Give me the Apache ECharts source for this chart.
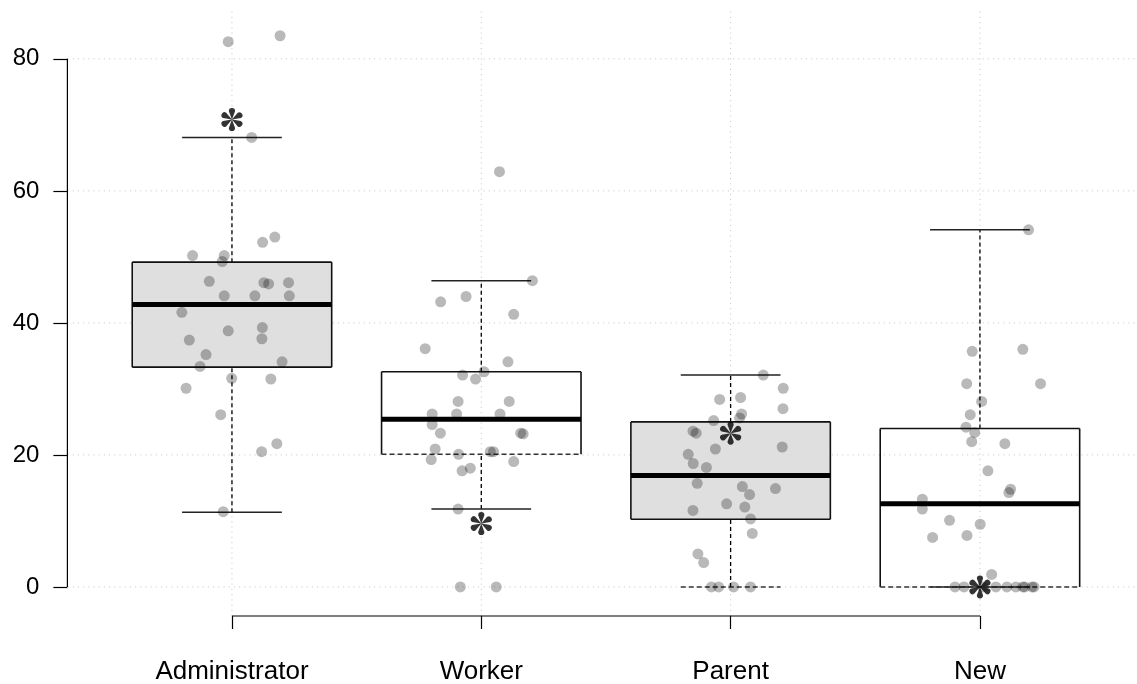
<!DOCTYPE html>
<html>
<head>
<meta charset="utf-8">
<script src="https://cdn.jsdelivr.net/npm/echarts@6/dist/echarts.min.js"></script>
<style>
html,body{margin:0;padding:0;background:#fff;}
#chart{width:1137px;height:684px;}
</style>
</head>
<body>
<div id="chart"></div>
<script>
// ---------- data ----------
const categories = ['Administrator', 'Worker', 'Parent', 'New'];
const yTicks = [0, 20, 40, 60, 80];

const boxLow    = [11.3, 11.8, 0,     0];
const boxQ1     = [33.3, 20.1, 10.25, 0];
const boxMedian = [42.8, 25.4, 16.9,  12.6];
const boxQ3     = [49.2, 32.6, 25.0,  24.0];
const boxHigh   = [68.1, 46.4, 32.1,  54.1];
const starValues = [70.8, 9.6, 23.3, 0];

const adminValues = [82.6, 83.5, 68.1, 52.2, 53.0, 50.2, 50.2, 49.3, 46.3, 46.1, 45.9, 46.1, 44.1, 44.1, 44.1,
  41.6, 38.8, 39.3, 37.4, 37.6, 35.2, 33.4, 34.1, 31.6, 31.5, 30.1, 26.1, 21.7, 20.5, 11.4];
const adminJitter = [-0.015, 0.193, 0.079, 0.123, 0.172, -0.158, -0.031, -0.039, -0.091, 0.128, 0.147, 0.227, -0.031, 0.092, 0.230,
  -0.201, -0.015, 0.122, -0.171, 0.120, -0.104, -0.128, 0.201, -0.001, 0.156, -0.184, -0.045, 0.180, 0.119, -0.035];

const workerValues = [62.9, 46.4, 43.2, 44.0, 41.3, 36.1, 34.1, 32.6, 32.1, 31.5, 28.1, 28.1, 26.2, 26.2, 26.2,
  24.6, 23.3, 23.3, 23.2, 20.9, 20.1, 20.5, 20.5, 19.3, 19.0, 17.6, 18.0, 11.8, 0, 0];
const workerJitter = [0.073, 0.205, -0.163, -0.061, 0.130, -0.225, 0.107, 0.011, -0.075, -0.023, -0.093, 0.112, -0.197, -0.099, 0.075,
  -0.197, -0.164, 0.158, 0.168, -0.185, -0.091, 0.036, 0.049, -0.201, 0.130, -0.077, -0.044, -0.093, -0.084, 0.060];

const parentValues = [32.1, 30.1, 28.4, 28.7, 27.0, 26.2, 25.6, 25.2, 23.6, 23.3, 20.9, 21.2, 20.1, 18.7, 18.1,
  15.7, 15.2, 14.9, 14.0, 12.6, 12.1, 11.6, 10.3, 8.1, 5.0, 3.7, 0, 0, 0, 0];
const parentJitter = [0.131, 0.211, -0.044, 0.040, 0.210, 0.044, 0.036, -0.068, -0.151, -0.138, -0.061, 0.207, -0.170, -0.150, -0.097,
  -0.134, 0.047, 0.180, 0.076, -0.016, 0.057, -0.151, 0.080, 0.087, -0.131, -0.108, -0.077, -0.048, 0.012, 0.080];

const newValues = [54.1, 35.7, 36.0, 30.8, 30.8, 28.1, 26.1, 24.2, 23.4, 22.0, 21.7, 17.6, 14.8, 14.3, 13.3,
  11.8, 10.1, 9.5, 7.5, 7.8, 1.9, 0, 0, 0, 0, 0, 0, 0, 0, 0, 0];
const newJitter = [0.195, -0.031, 0.172, -0.053, 0.243, 0.007, -0.039, -0.056, -0.021, -0.033, 0.100, 0.032, 0.123, 0.116, -0.231,
  -0.231, -0.122, 0.001, -0.190, -0.052, 0.047, -0.100, -0.064, 0.012, 0.064, 0.108, 0.144, 0.172, 0.180, 0.209, 0.217];

// ---------- style config ----------
const X_MIN = 0.34, X_MAX = 4.66, Y_MIN = -4.4, Y_MAX = 87.4;
const boxFills = ['#dfdfdf', null, '#dfdfdf', null];
const dashedBottom = ['none', 'box', 'cap', 'box'];
const BOX_HALF = 0.4, CAP_HALF = 0.2;
const FONT = '"Liberation Sans", Arial, Helvetica, sans-serif';

const groups = [
  [adminValues, adminJitter],
  [workerValues, workerJitter],
  [parentValues, parentJitter],
  [newValues, newJitter]
];
const pointData = [];
groups.forEach((g, i) => {
  g[0].forEach((v, k) => pointData.push([i + 1 + g[1][k], v]));
});
const boxData = categories.map((c, i) => [i + 1, boxLow[i], boxQ1[i], boxMedian[i], boxQ3[i], boxHigh[i]]);
const starData = starValues.map((v, i) => [i + 1, v]);

// asterisk symbol (six teardrop arms)
function asteriskPath() {
  const L = 68, r = 25;
  let d = '';
  [-90, -30, 30, 90, 150, 210].forEach(deg => {
    const t = deg * Math.PI / 180;
    const dx = Math.cos(t), dy = Math.sin(t);
    const px = -dy, py = dx;
    const cx = dx * L, cy = dy * L;
    const ax = cx + px * r, ay = cy + py * r;
    const bx = cx - px * r, by = cy - py * r;
    d += 'M0 0L' + ax.toFixed(2) + ' ' + ay.toFixed(2) +
         'A' + r + ' ' + r + ' 0 1 0 ' + bx.toFixed(2) + ' ' + by.toFixed(2) + 'Z';
  });
  return 'path://' + d;
}

function seg(api, p1, p2, style) {
  const a = api.coord(p1), b = api.coord(p2);
  return { type: 'line', shape: { x1: a[0], y1: a[1], x2: b[0], y2: b[1] }, style: style };
}

const chart = echarts.init(document.getElementById('chart'), null, { renderer: 'canvas' });
const option = {
  backgroundColor: '#ffffff',
  animation: false,
  grid: { left: 67.4, top: 10, width: 1077.1, height: 606, outerBoundsMode: 'none', containLabel: false },
  xAxis: {
    type: 'value', min: X_MIN, max: X_MAX,
    axisLine: { show: false, onZero: false },
    splitLine: { show: false },
    axisTick: { show: true, customValues: [1, 2, 3, 4], length: 13, lineStyle: { color: '#000', width: 1.2 } },
    axisLabel: {
      customValues: [1, 2, 3, 4],
      formatter: v => categories[Math.round(v) - 1],
      fontSize: 26, color: '#000', margin: 43, fontFamily: FONT
    }
  },
  yAxis: {
    type: 'value', min: Y_MIN, max: Y_MAX,
    axisLine: { show: false, onZero: false },
    splitLine: { show: false },
    axisTick: { show: true, customValues: yTicks, length: 14, lineStyle: { color: '#000', width: 1.2 } },
    axisLabel: { customValues: yTicks, fontSize: 24, color: '#000', margin: 28, fontFamily: FONT }
  },
  series: [
    {
      type: 'custom', z: 1, silent: true,
      data: [[0]],
      renderItem: (params, api) => {
        const gridStyle = { stroke: '#cccccc', lineWidth: 1, lineDash: [1.2, 4] };
        const axisStyle = { stroke: '#000', lineWidth: 1.2 };
        const children = [];
        yTicks.forEach(v => children.push(seg(api, [X_MIN, v], [X_MAX, v], gridStyle)));
        categories.forEach((c, i) => children.push(seg(api, [i + 1, Y_MIN], [i + 1, Y_MAX], gridStyle)));
        children.push(seg(api, [X_MIN, yTicks[0]], [X_MIN, yTicks[yTicks.length - 1]], axisStyle));
        children.push(seg(api, [1, Y_MIN], [categories.length, Y_MIN], axisStyle));
        return { type: 'group', children: children };
      }
    },
    {
      type: 'custom', z: 2, silent: true,
      data: boxData,
      renderItem: (params, api) => {
        const i = params.dataIndex;
        const x = api.value(0), lo = api.value(1), q1 = api.value(2), md = api.value(3), q3 = api.value(4), hi = api.value(5);
        const whisk = { stroke: '#000', lineWidth: 1.3, lineDash: [4, 3] };
        const cap = { stroke: '#222', lineWidth: 1.5 };
        const edge = { stroke: '#111', lineWidth: 1.6 };
        const dashEdge = { stroke: '#333', lineWidth: 1.5, lineDash: [5, 3] };
        const children = [];
        const tl = api.coord([x - BOX_HALF, q3]), br = api.coord([x + BOX_HALF, q1]);
        if (boxFills[i]) {
          children.push({ type: 'rect', shape: { x: tl[0], y: tl[1], width: br[0] - tl[0], height: br[1] - tl[1] }, style: { fill: boxFills[i] } });
        }
        children.push(seg(api, [x, q3], [x, hi], whisk));
        children.push(seg(api, [x, lo], [x, q1], whisk));
        children.push(seg(api, [x - CAP_HALF, hi], [x + CAP_HALF, hi], cap));
        children.push(seg(api, [x - CAP_HALF, lo], [x + CAP_HALF, lo], dashedBottom[i] === 'cap' ? dashEdge : cap));
        children.push(seg(api, [x - BOX_HALF, q3], [x + BOX_HALF, q3], edge));
        children.push(seg(api, [x - BOX_HALF, q1], [x - BOX_HALF, q3], edge));
        children.push(seg(api, [x + BOX_HALF, q1], [x + BOX_HALF, q3], edge));
        children.push(seg(api, [x - BOX_HALF, q1], [x + BOX_HALF, q1], dashedBottom[i] === 'box' ? dashEdge : edge));
        children.push(seg(api, [x - BOX_HALF, md], [x + BOX_HALF, md], { stroke: '#000', lineWidth: 5 }));
        return { type: 'group', children: children };
      }
    },
    {
      type: 'scatter', z: 3, silent: true,
      data: pointData,
      symbol: 'circle', symbolSize: 11,
      itemStyle: { color: 'rgba(0,0,0,0.34)' }
    },
    {
      type: 'scatter', z: 4, silent: true,
      data: starData,
      symbol: asteriskPath(), symbolSize: [21, 23],
      itemStyle: { color: '#000' }
    }
  ]
};
chart.setOption(option);
</script>
</body>
</html>
